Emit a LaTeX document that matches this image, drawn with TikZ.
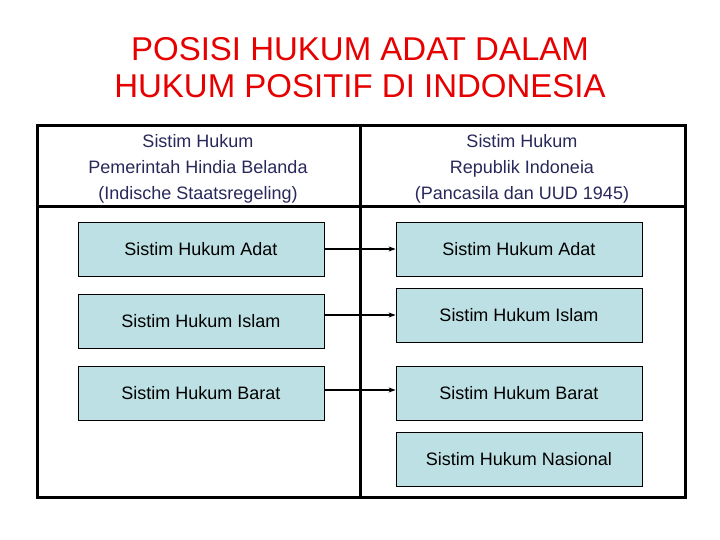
\documentclass[tikz,border=0pt]{standalone}
\usepackage{fontspec}
\setmainfont{Liberation Sans}
\usetikzlibrary{arrows.meta}
\definecolor{boxfill}{RGB}{189,224,228}
\definecolor{hdr}{RGB}{40,40,90}
\definecolor{ttl}{RGB}{230,0,0}
\begin{document}
\begin{tikzpicture}[x=1pt,y=-1pt,
  lawbox/.style={draw=black,line width=0.8pt,fill=boxfill,minimum width=246pt,minimum height=54pt,inner sep=0pt,font=\fontsize{18}{18}\selectfont},
  hdrtext/.style={align=center,text=hdr,font=\fontsize{18}{26}\selectfont},
  frame/.style={line width=3pt},
  conn/.style={line width=1.2pt,-{Stealth[length=7pt,width=5pt]}}]
\useasboundingbox (0,0) rectangle (720,540);
\node[text=ttl,align=center,font=\fontsize{33}{37}\selectfont] (title) at (360,68) {POSISI HUKUM ADAT DALAM\\HUKUM POSITIF DI INDONESIA};
\draw[frame] (37,126) rectangle (685,497);
\draw[frame] (37,207) -- (685,207);
\draw[frame] (360,126) -- (360,497);
\node[hdrtext] (hl) at (198,169) {Sistim Hukum\\Pemerintah Hindia Belanda\\(Indische Staatsregeling)};
\node[hdrtext] (hr) at (522,169) {Sistim Hukum\\Republik Indoneia\\(Pancasila dan UUD 1945)};
\node[lawbox] (la) at (201,249) {Sistim Hukum Adat};
\node[lawbox] (li) at (201,321) {Sistim Hukum Islam};
\node[lawbox] (lb) at (201,393) {Sistim Hukum Barat};
\node[lawbox] (ra) at (519,249) {Sistim Hukum Adat};
\node[lawbox] (ri) at (519,315) {Sistim Hukum Islam};
\node[lawbox] (rb) at (519,393) {Sistim Hukum Barat};
\node[lawbox] (rn) at (519,459) {Sistim Hukum Nasional};
\draw[conn] (la.east) -- (ra.west);
\draw[conn] (li.east |- ri.west) -- (ri.west);
\draw[conn] (lb.east |- 0,390) -- (rb.west |- 0,390);
\end{tikzpicture}
\end{document}
